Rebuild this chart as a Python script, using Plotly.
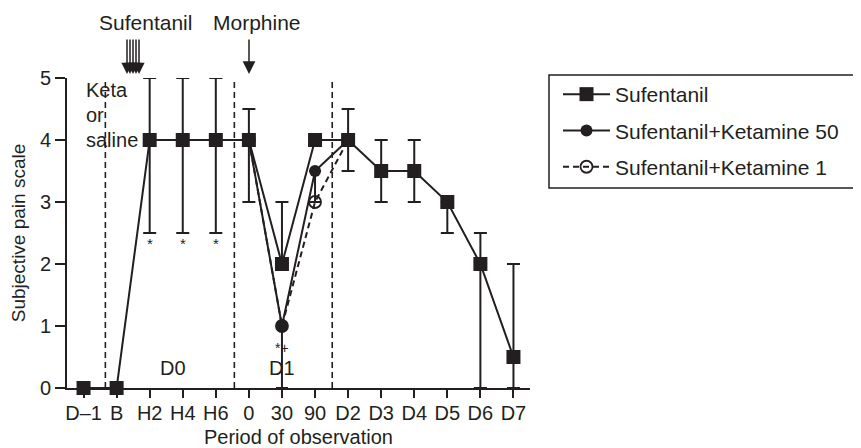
import plotly.graph_objects as go

# ---------------- data ----------------
periods = ["D–1", "B", "H2", "H4", "H6", "0", "30", "90", "D2", "D3", "D4", "D5", "D6", "D7"]

suf_values = [0, 0, 4, 4, 4, 4, 2, 4, 4, 3.5, 3.5, 3, 2, 0.5]
suf_err_plus = [0, 0, 1, 1, 1, 0.5, 1, 0, 0.5, 0.5, 0.5, 0, 0.5, 1.5]
suf_err_minus = [0, 0, 1.5, 1.5, 1.5, 1, 0, 0, 0.5, 0.5, 0.5, 0.5, 2, 0.5]

k50_periods = ["0", "30", "90", "D2"]
k50_values = [4, 1, 3.5, 4]
k50_err_minus = [0, 1, 0.5, 0]

k1_periods = ["0", "30", "90", "D2"]
k1_values = [4, 1, 3, 4]

star_periods = ["H2", "H4", "H6"]
star_level = 2.33
plus_period = "30"
plus_level = 0.64

phase_labels = ["D0", "D1"]
phase_label_pos = [2.72, 6.0]
phase_label_level = 0.33

boundaries = [0.66, 4.56, 7.52]

# ---------------- style ----------------
INK = "#231f20"
FONT = "Liberation Sans, Arial, Helvetica, sans-serif"

W, H = 853, 440
ML, MR, MT, MB = 59, 331, 70, 60
PW, PH = W - ML - MR, H - MT - MB


def px_x(x):  # figure pixel -> paper x
    return (x - ML) / PW


def px_y(y):  # figure pixel -> paper y
    return (H - MB - y) / PH


idx = {p: i for i, p in enumerate(periods)}
x_all = list(range(len(periods)))

fig = go.Figure()

fig.add_trace(go.Scatter(
    x=x_all, y=suf_values,
    mode="lines+markers", name="Sufentanil",
    line=dict(color=INK, width=2),
    marker=dict(symbol="square", size=14, color=INK),
    error_y=dict(type="data", symmetric=False, array=suf_err_plus,
                 arrayminus=suf_err_minus, color=INK, thickness=2, width=6.5),
    cliponaxis=False, legendgroup="a",
))

fig.add_trace(go.Scatter(
    x=[idx[p] for p in k50_periods], y=k50_values,
    mode="lines+markers", name="Sufentanil+Ketamine 50",
    line=dict(color=INK, width=2),
    marker=dict(symbol="circle", size=12, color=INK),
    error_y=dict(type="data", symmetric=False, array=[0] * len(k50_values),
                 arrayminus=k50_err_minus, color=INK, thickness=2, width=6),
    cliponaxis=False, legendgroup="b",
))

fig.add_trace(go.Scatter(
    x=[idx[p] for p in k1_periods], y=k1_values,
    mode="lines+markers", name="Sufentanil+Ketamine 1",
    line=dict(color=INK, width=2, dash="6px,4px"),
    marker=dict(symbol="circle-open", size=12, color=INK, line=dict(width=1.8, color=INK)),
    cliponaxis=False, legendgroup="c",
))

shapes = []
for b in boundaries:
    shapes.append(dict(type="line", xref="x", yref="y", x0=b, x1=b, y0=0, y1=5,
                       line=dict(color=INK, width=1.6, dash="6px,4px")))
# legend frame
shapes.append(dict(type="rect", xref="paper", yref="paper",
                   x0=px_x(541), x1=px_x(852), y0=px_y(180), y1=px_y(67),
                   line=dict(color=INK, width=1.5), fillcolor="rgba(0,0,0,0)"))

annotations = []
for p in star_periods:
    annotations.append(dict(x=idx[p], y=star_level, xref="x", yref="y", text="*",
                            showarrow=False, font=dict(size=15, color=INK, family=FONT)))
annotations.append(dict(x=idx[plus_period], y=plus_level, xref="x", yref="y", text="*+",
                        showarrow=False, font=dict(size=14, color=INK, family=FONT)))
for lab, pos in zip(phase_labels, phase_label_pos):
    annotations.append(dict(x=pos, y=phase_label_level, xref="x", yref="y", text=lab,
                            showarrow=False, font=dict(size=20, color=INK, family=FONT)))
for t, yy in zip(["Keta", "or", "saline"], [4.8, 4.4, 4.0]):
    annotations.append(dict(x=0.02, y=yy, xref="x", yref="y", text=t, xanchor="left",
                            showarrow=False, font=dict(size=20, color=INK, family=FONT)))

annotations.append(dict(x=px_x(137), y=px_y(15), xref="paper", yref="paper", text="Sufentanil",
                        xanchor="center", yanchor="middle",
                        showarrow=False, font=dict(size=21, color=INK, family=FONT)))
annotations.append(dict(x=px_x(249), y=px_y(15), xref="paper", yref="paper", text="Morphine",
                        xanchor="center", yanchor="middle",
                        showarrow=False, font=dict(size=21, color=INK, family=FONT)))
for k in range(5):
    annotations.append(dict(x=px_x(119 + 3 * k), y=px_y(66), xref="paper", yref="paper",
                            text="", ax=0, ay=-36, showarrow=True, arrowhead=2,
                            arrowsize=1.5, arrowwidth=1.5, arrowcolor=INK))
annotations.append(dict(x=px_x(241), y=px_y(66), xref="paper", yref="paper",
                        text="", ax=0, ay=-36, showarrow=True, arrowhead=2,
                        arrowsize=1.7, arrowwidth=1.5, arrowcolor=INK))

fig.update_layout(
    width=W, height=H,
    margin=dict(l=ML, r=MR, t=MT, b=MB, pad=0),
    paper_bgcolor="white", plot_bgcolor="white",
    font=dict(family=FONT, size=20, color=INK),
    shapes=shapes, annotations=annotations,
    showlegend=True,
    legend=dict(x=px_x(550), y=px_y(66), xanchor="left", yanchor="top",
                borderwidth=0, bgcolor="rgba(0,0,0,0)",
                font=dict(size=21, color=INK, family=FONT),
                itemwidth=47, tracegroupgap=6, traceorder="grouped"),
    xaxis=dict(range=[-0.5, 13.5], tickmode="array", tickvals=x_all, ticktext=periods,
               showline=True, linecolor=INK, linewidth=2, ticks="outside", ticklen=8,
               tickwidth=2, tickcolor=INK, showgrid=False, zeroline=False,
               tickfont=dict(size=20), automargin=False, ticklabelstandoff=-2,
               title=dict(text="Period of observation", font=dict(size=20), standoff=13)),
    yaxis=dict(range=[0, 5], tickvals=[0, 1, 2, 3, 4, 5], showline=True, linecolor=INK,
               linewidth=2, ticks="outside", ticklen=10, tickwidth=2, tickcolor=INK,
               showgrid=False, zeroline=False, tickfont=dict(size=20), automargin=False,
               title=dict(text="Subjective pain scale", font=dict(size=19), standoff=14)),
)

fig.write_html("out.html")
